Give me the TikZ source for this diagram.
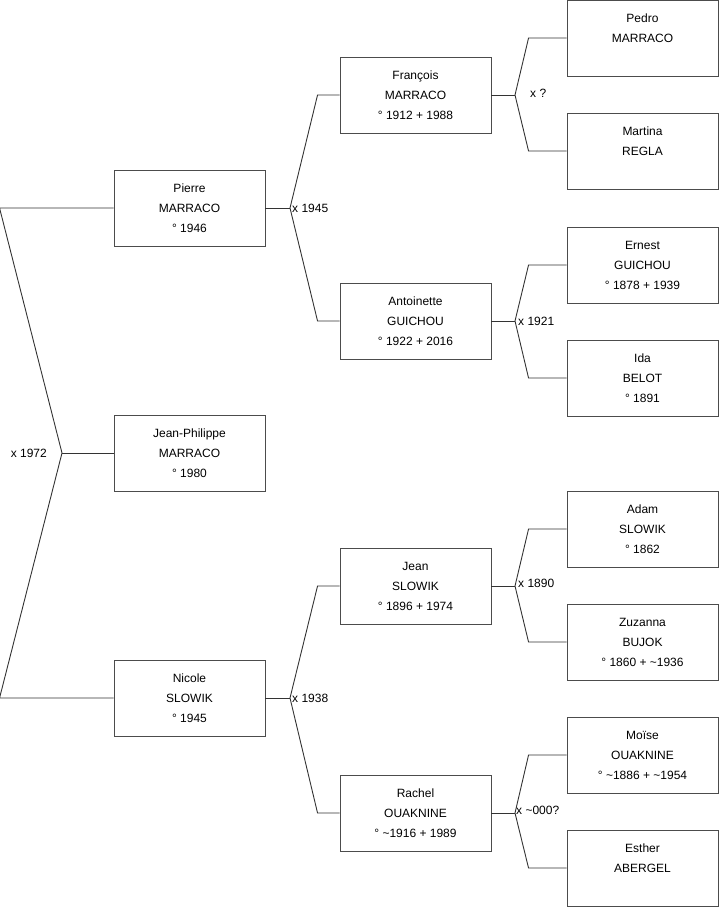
\documentclass[tikz,border=0pt]{standalone}
\usepackage{fontspec}
\setmainfont{Liberation Sans}
\usetikzlibrary{calc}

\begin{document}
\begin{tikzpicture}[x=1pt,y=-1pt,
    person/.style={draw=black!70, line width=0.9pt, minimum width=151pt, minimum height=76pt,
      align=center, inner sep=0pt, font=\fontsize{12}{20}\selectfont},
    link/.style={draw=black!80, line width=0.9pt},
    union/.style={font=\fontsize{12}{14}\selectfont, inner sep=0pt}]
    \useasboundingbox (0,0) rectangle (719,908);

    % Generation 1
    \node[person] (pierre) at (189.5,208) {Pierre\\MARRACO\\° 1946};
    \node[person] (jp) at (189.5,453) {Jean-Philippe\\MARRACO\\° 1980};
    \node[person] (nicole) at (189.5,698) {Nicole\\SLOWIK\\° 1945};

    % Generation 2
    \node[person] (francois) at (415.5,95) {François\\MARRACO\\° 1912 + 1988};
    \node[person] (antoinette) at (415.5,321) {Antoinette\\GUICHOU\\° 1922 + 2016};
    \node[person] (jean) at (415.5,586) {Jean\\SLOWIK\\° 1896 + 1974};
    \node[person] (rachel) at (415.5,813) {Rachel\\OUAKNINE\\° \textasciitilde1916 + 1989};

    % Generation 3
    \node[person] (pedro) at (642.5,38) {Pedro\\MARRACO\\~};
    \node[person] (martina) at (642.5,151) {Martina\\REGLA\\~};
    \node[person] (ernest) at (642.5,265) {Ernest\\GUICHOU\\° 1878 + 1939};
    \node[person] (ida) at (642.5,378) {Ida\\BELOT\\° 1891};
    \node[person] (adam) at (642.5,529) {Adam\\SLOWIK\\° 1862};
    \node[person] (zuzanna) at (642.5,642) {Zuzanna\\BUJOK\\° 1860 + \textasciitilde1936};
    \node[person] (moise) at (642.5,755) {Moïse\\OUAKNINE\\° \textasciitilde1886 + \textasciitilde1954};
    \node[person] (esther) at (642.5,868) {Esther\\ABERGEL\\~};

    % Marriage points
    \coordinate (m1972) at (62,453);
    \coordinate (m1945) at (290,208);
    \coordinate (m1938) at (290,698);
    \coordinate (mq) at (515,95);
    \coordinate (m1921) at (515,321);
    \coordinate (m1890) at (515,586);
    \coordinate (m000) at (515,813);

    % Parents of Jean-Philippe
    \draw[link] (pierre.west) -- ++(-114,0) -- (m1972) -- ($(nicole.west)+(-114,0)$) -- (nicole.west);
    \draw[link] (m1972) -- (jp.west);
    \node[union, anchor=east] (l1972) at (47,453) {x 1972};

    % Parents of Pierre
    \draw[link] (pierre.east) -- (m1945);
    \draw[link] (francois.west) -- ++(-22,0) -- (m1945) -- ($(antoinette.west)+(-22,0)$) -- (antoinette.west);
    \node[union, anchor=west] (l1945) at (292,208) {x 1945};

    % Parents of Nicole
    \draw[link] (nicole.east) -- (m1938);
    \draw[link] (jean.west) -- ++(-22,0) -- (m1938) -- ($(rachel.west)+(-22,0)$) -- (rachel.west);
    \node[union, anchor=west] (l1938) at (292,698) {x 1938};

    % Parents of François
    \draw[link] (francois.east) -- (mq);
    \draw[link] (pedro.west) -- ++(-38,0) -- (mq) -- ($(martina.west)+(-38,0)$) -- (martina.west);
    \node[union, anchor=west] (lq) at (530,93) {x ?};

    % Parents of Antoinette
    \draw[link] (antoinette.east) -- (m1921);
    \draw[link] (ernest.west) -- ++(-38,0) -- (m1921) -- ($(ida.west)+(-38,0)$) -- (ida.west);
    \node[union, anchor=west] (l1921) at (518,321) {x 1921};

    % Parents of Jean
    \draw[link] (jean.east) -- (m1890);
    \draw[link] (adam.west) -- ++(-38,0) -- (m1890) -- ($(zuzanna.west)+(-38,0)$) -- (zuzanna.west);
    \node[union, anchor=west] (l1890) at (518,583) {x 1890};

    % Parents of Rachel
    \draw[link] (rachel.east) -- (m000);
    \draw[link] (moise.west) -- ++(-38,0) -- (m000) -- ($(esther.west)+(-38,0)$) -- (esther.west);
    \node[union, anchor=west] (l000) at (516,810) {x \textasciitilde000?};
\end{tikzpicture}
\end{document}
